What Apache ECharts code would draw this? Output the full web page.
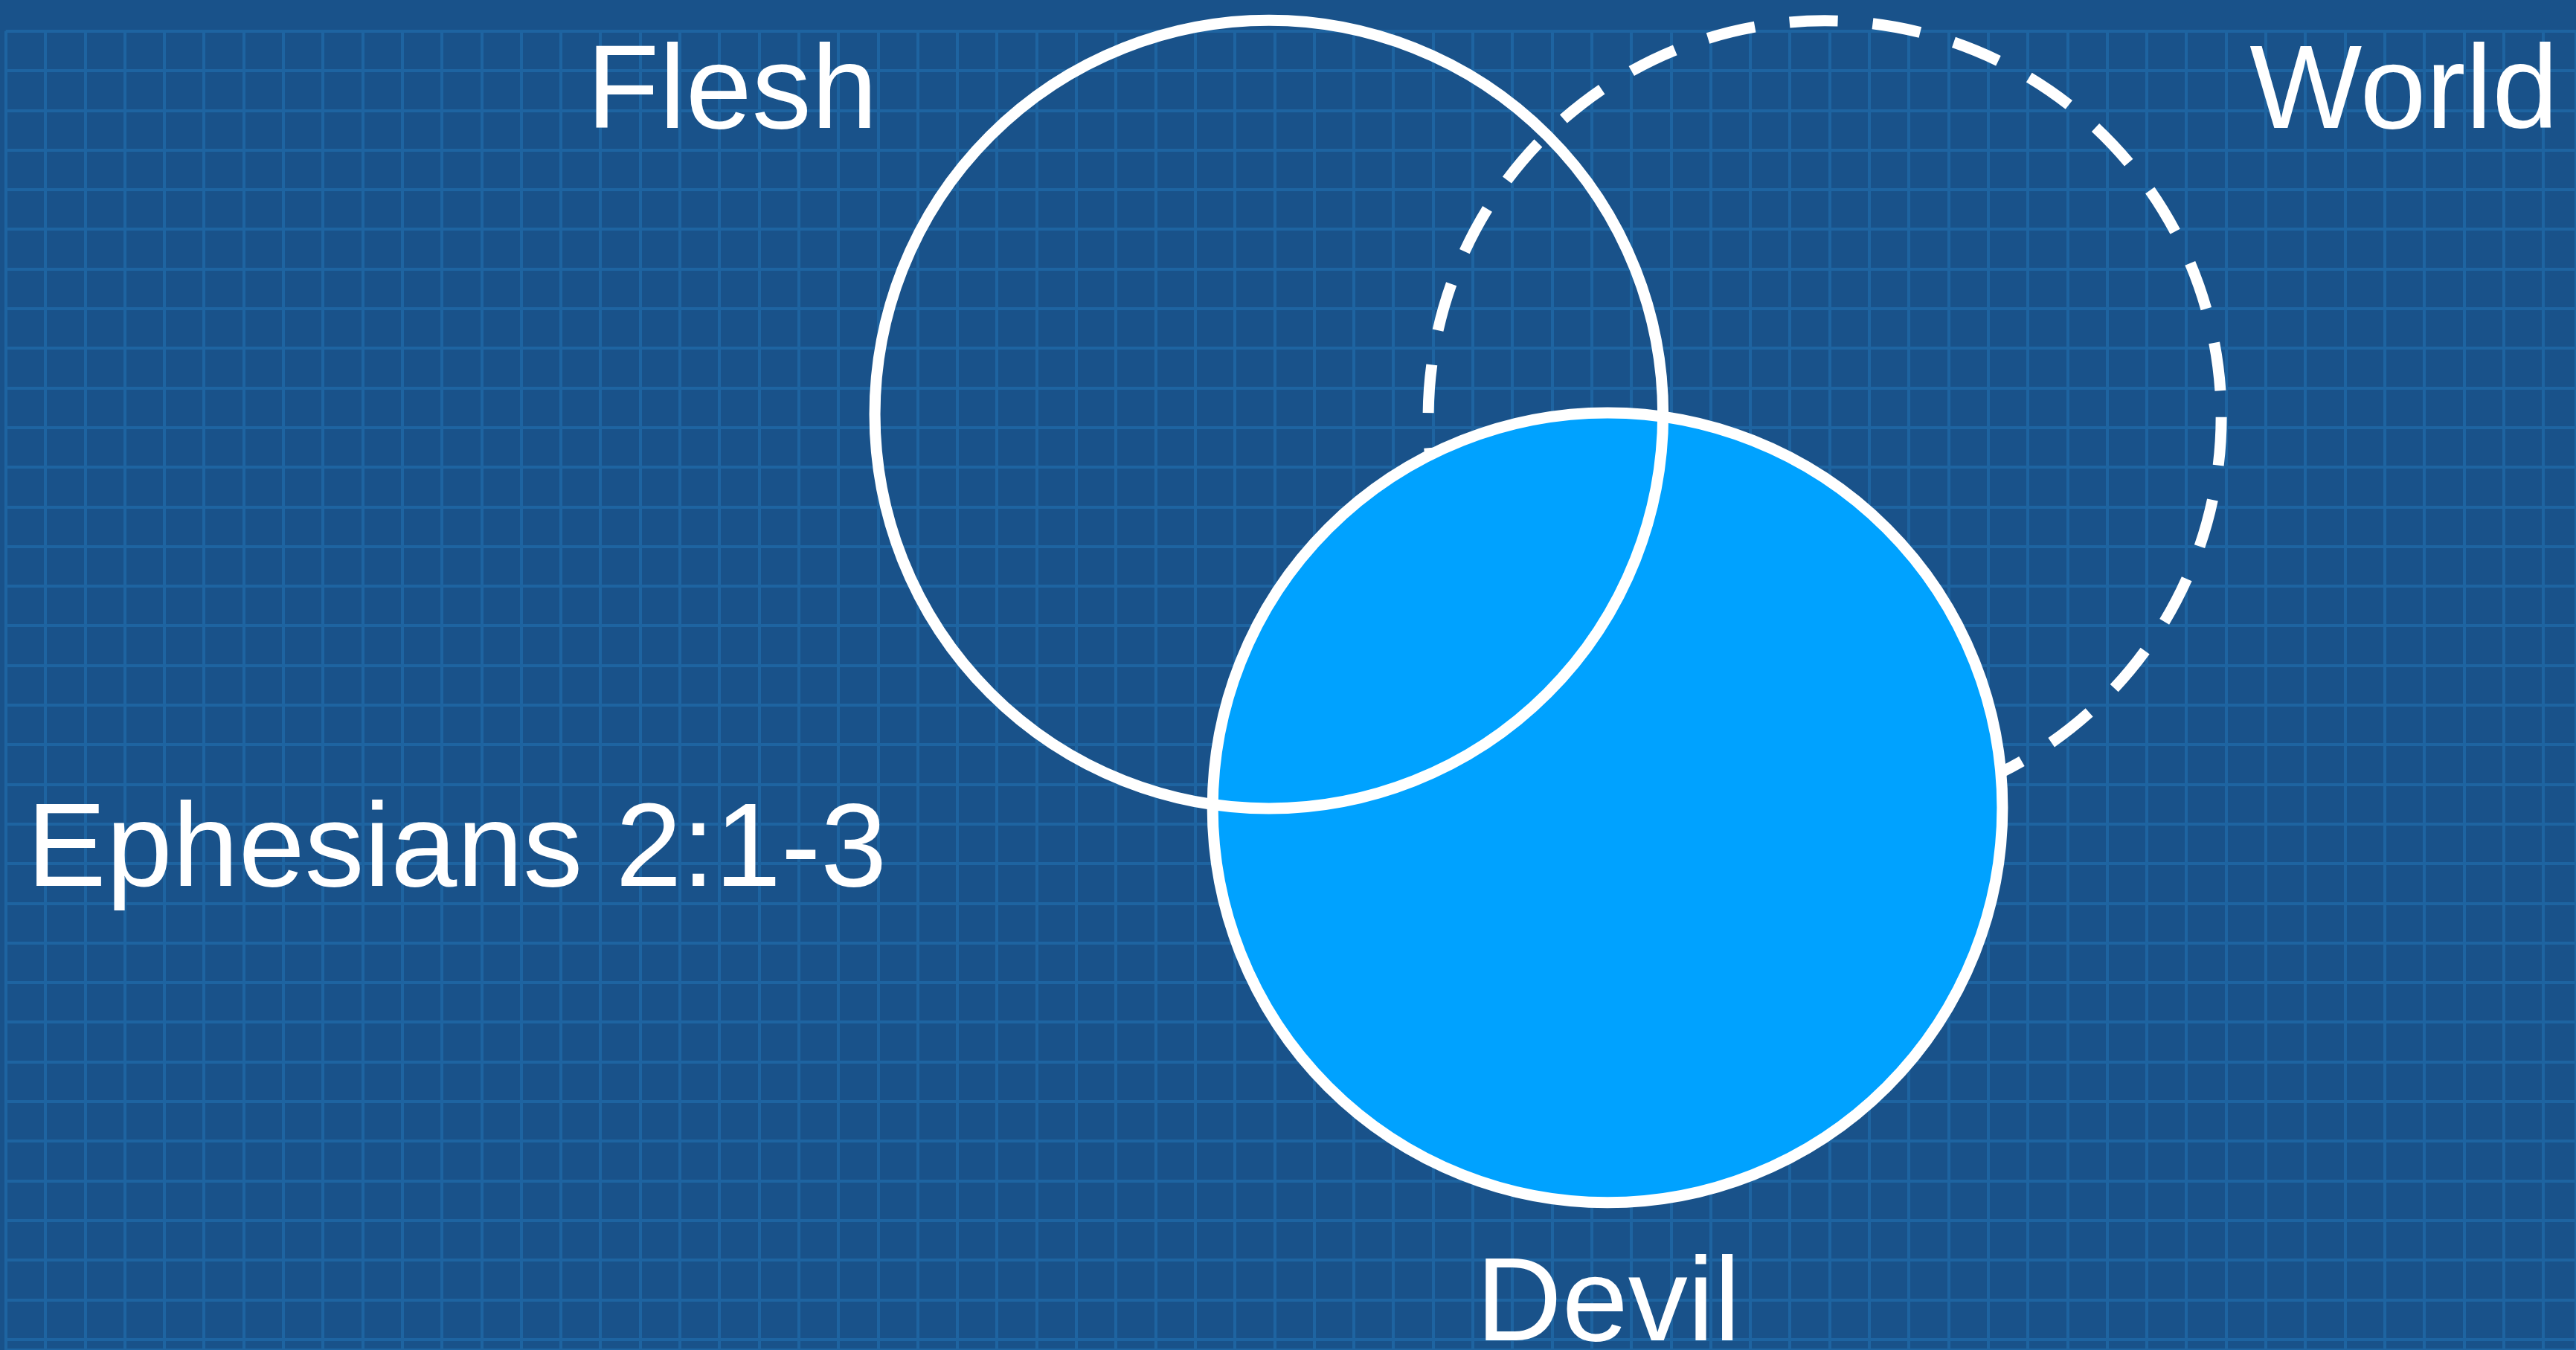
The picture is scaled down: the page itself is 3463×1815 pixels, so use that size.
<!DOCTYPE html>
<html>
<head>
<meta charset="utf-8">
<script src="https://cdn.jsdelivr.net/npm/echarts@6/dist/echarts.min.js"></script>
<style>
html,body{margin:0;padding:0;width:100%;height:100%;overflow:hidden;background:#19528a;}
#chart{width:100vw;height:100vh;}
</style>
</head>
<body>
<div id="chart"></div>
<script>
// ---- data (in blueprint grid units) ----
const circleNames = ['World', 'Devil', 'Flesh'];
const centerX = [45.88, 40.40, 31.86];
const centerY = [9.74, 19.59, 9.67];
const radius = [10.0, 9.96, 9.94];

const labelText = ['Flesh', 'World', 'Ephesians 2:1-3', 'Devil'];
const labelX = [14.65, 64.38, 0.53, 40.42];
const labelY = [1.615, 1.615, 20.74, 32.2];

// ---- styles (kept apart from data) ----
const circleStyles = {
  World: { fill: null, stroke: '#ffffff', lineWidth: 15, lineDash: [65, 47], lineCap: 'butt' },
  Devil: { fill: '#00a2ff', stroke: '#ffffff', lineWidth: 15 },
  Flesh: { fill: null, stroke: '#ffffff', lineWidth: 15 }
};
const labelAlign = ['left', 'right', 'left', 'center'];

const chart = echarts.init(document.getElementById('chart'), null, { renderer: 'canvas' });
const W = chart.getWidth(), H = chart.getHeight();
const gridLeft = 7.7, gridTop = 41.7, cell = 53.3;

const option = {
  backgroundColor: '#19528a',
  animation: false,
  grid: { left: gridLeft, top: gridTop, right: 0, bottom: 0, containLabel: false },
  xAxis: {
    type: 'value', min: 0, max: +((W - gridLeft) / cell).toFixed(3), interval: 1,
    axisLine: { show: false }, axisTick: { show: false }, axisLabel: { show: false },
    splitLine: { show: true, lineStyle: { color: '#1e64a1', width: 4 } }
  },
  yAxis: {
    type: 'value', inverse: true, min: 0, max: +((H - gridTop) / cell).toFixed(3), interval: 1,
    axisLine: { show: false }, axisTick: { show: false }, axisLabel: { show: false },
    splitLine: { show: true, lineStyle: { color: '#1e64a1', width: 4 } }
  },
  series: [
    {
      type: 'custom',
      name: 'circles',
      clip: false,
      data: circleNames.map((n, i) => ({ name: n, value: [centerX[i], centerY[i], radius[i]] })),
      renderItem: function (params, api) {
        const name = circleNames[params.dataIndex];
        const c = api.coord([api.value(0), api.value(1)]);
        const r = api.size([api.value(2), 0])[0];
        return { type: 'circle', shape: { cx: c[0], cy: c[1], r: r }, style: circleStyles[name] };
      }
    },
    {
      type: 'custom',
      name: 'labels',
      clip: false,
      data: labelText.map((t, i) => ({ name: t, value: [labelX[i], labelY[i]] })),
      renderItem: function (params, api) {
        const i = params.dataIndex;
        const c = api.coord([api.value(0), api.value(1)]);
        return {
          type: 'text', x: c[0], y: c[1],
          style: {
            text: labelText[i], fill: '#ffffff', fontSize: 160,
            fontFamily: '"Liberation Sans", Arial, Helvetica, sans-serif',
            align: labelAlign[i], verticalAlign: 'middle'
          }
        };
      }
    }
  ]
};
chart.setOption(option);
</script>
</body>
</html>
